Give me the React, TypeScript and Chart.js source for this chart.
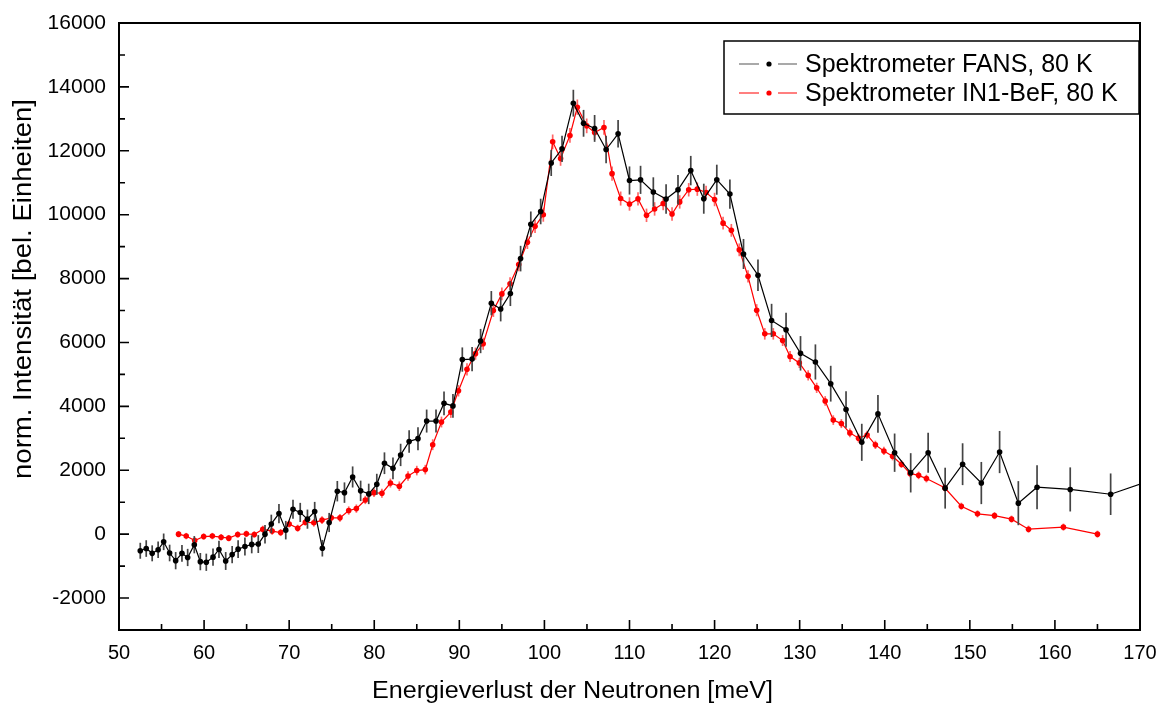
import React, { useEffect, useRef } from "react";
import { Chart, registerables } from "chart.js";

Chart.register(...registerables);

const FONT = '"Liberation Sans", Arial, Helvetica, sans-serif';

// Energy transfer axis and intensity axis tick positions
const xMajorTicks = [50, 60, 70, 80, 90, 100, 110, 120, 130, 140, 150, 160, 170];
const xMinorTicks = [55, 65, 75, 85, 95, 105, 115, 125, 135, 145, 155, 165];
const yMajorTicks = [-2000, 0, 2000, 4000, 6000, 8000, 10000, 12000, 14000, 16000];
const yMinorTicks = [-1000, 1000, 3000, 5000, 7000, 9000, 11000, 13000, 15000];

const xAxisTitle = "Energieverlust der Neutronen [meV]";
const yAxisTitle = "norm. Intensität [bel. Einheiten]";
const legendLabels = ["Spektrometer FANS, 80 K", "Spektrometer IN1-BeF, 80 K"];

// FANS spectrometer, 80 K
const fansEnergy = [
  52.5, 53.2, 53.9, 54.6, 55.25, 55.95, 56.66, 57.4, 58.07, 58.85,
  59.56, 60.26, 61.05, 61.75, 62.54, 63.3, 64.0, 64.8, 65.6, 66.37,
  67.16, 67.9, 68.8, 69.6, 70.45, 71.3, 72.15, 73.0, 73.9, 74.7,
  75.66, 76.5, 77.46, 78.4, 79.35, 80.3, 81.2, 82.2, 83.1, 84.1,
  85.14, 86.16, 87.26, 88.2, 89.25, 90.35, 91.5, 92.5, 93.76, 94.86,
  96.0, 97.2, 98.4, 99.56, 100.8, 102.07, 103.4, 104.6, 105.9, 107.25,
  108.66, 110.0, 111.3, 112.8, 114.3, 115.7, 117.2, 118.73, 120.26, 121.8,
  123.4, 125.1, 126.7, 128.4, 130.1, 131.85, 133.65, 135.45, 137.3, 139.2,
  141.16, 143.05, 145.1, 147.1, 149.15, 151.35, 153.5, 155.7, 157.9, 161.8,
  166.55, 171.5,
];
const fansIntensity = [
  -520, -450, -600, -490, -240, -590, -830, -600, -730, -330,
  -860, -880, -720, -480, -840, -640, -470, -385, -320, -310,
  0, 320, 645, 125, 780, 680, 470, 710, -440, 365,
  1345, 1300, 1790, 1355, 1260, 1560, 2220, 2060, 2480, 2900,
  2990, 3540, 3540, 4095, 4015, 5465, 5480, 6045, 7230, 7050,
  7530, 8625, 9700, 10100, 11620, 12060, 13490, 12860, 12700, 12040,
  12530, 11070, 11090, 10710, 10490, 10780, 11380, 10500, 11095, 10645,
  8770, 8105, 6690, 6400, 5660, 5390, 4710, 3900, 2875, 3765,
  2550, 1920, 2550, 1440, 2190, 1600, 2570, 970, 1470, 1400,
  1250, 1700,
];
const fansError = [
  250, 260, 250, 260, 260, 260, 270, 260, 270, 270,
  270, 270, 270, 270, 280, 270, 280, 280, 280, 280,
  290, 290, 300, 290, 300, 300, 300, 300, 260, 300,
  320, 320, 330, 320, 320, 330, 340, 340, 350, 350,
  360, 360, 360, 370, 370, 380, 380, 380, 380, 390,
  390, 400, 400, 400, 410, 410, 420, 420, 420, 430,
  430, 440, 440, 460, 460, 460, 460, 470, 470, 460,
  470, 490, 520, 530, 540, 550, 560, 570, 580, 590,
  600, 615, 625, 640, 655, 660, 660, 690, 690, 690,
  650, 680,
];

// IN1-BeF spectrometer, 80 K
const in1Energy = [
  57.0, 57.9, 58.9, 59.95, 60.97, 62.0, 62.9, 63.95, 64.97, 65.9,
  66.9, 68.0, 69.0, 70.0, 71.0, 71.9, 72.9, 73.86, 74.95, 75.97,
  77.0, 77.9, 78.95, 79.97, 80.9, 81.9, 82.95, 83.97, 85.0, 86.0,
  86.87, 87.9, 89.0, 89.9, 90.9, 91.9, 92.8, 94.0, 95.0, 95.96,
  96.98, 98.0, 98.9, 99.87, 100.97, 101.9, 103.0, 103.87, 104.97, 105.9,
  107.0, 107.95, 108.96, 110.0, 111.0, 112.0, 112.95, 113.96, 115.0, 115.9,
  116.96, 117.97, 119.0, 120.0, 121.0, 121.97, 122.9, 123.93, 124.95, 125.9,
  126.9, 128.0, 128.87, 129.96, 131.0, 132.0, 133.0, 133.95, 134.9, 135.9,
  136.92, 137.93, 138.9, 139.9, 140.92, 141.96, 142.97, 143.98, 144.9, 147.05,
  149.0, 150.9, 152.9, 154.9, 156.9, 161.0, 165.0,
];
const in1Intensity = [
  0, -60, -200, -75, -60, -95, -125, -10, 10, -10,
  155, 95, 50, 320, 185, 375, 355, 440, 510, 510,
  740, 800, 1070, 1300, 1280, 1600, 1500, 1820, 1990, 2020,
  2800, 3510, 3820, 4490, 5160, 5650, 5960, 7000, 7520, 7840,
  8440, 9135, 9635, 10000, 12280, 11760, 12480, 13365, 12780, 12570,
  12730, 11285, 10505, 10335, 10495, 9980, 10180, 10350, 10020, 10400,
  10780, 10800, 10695, 10475, 9735, 9510, 8900, 8070, 7010, 6270,
  6270, 6060, 5560, 5360, 4970, 4580, 4170, 3570, 3460, 3170,
  3005, 3105, 2795, 2605, 2440, 2190, 1900, 1840, 1740, 1450,
  875, 635, 580, 470, 155, 220, 0,
];
const in1Error = [
  100, 100, 100, 100, 100, 100, 100, 100, 100, 100,
  110, 110, 110, 110, 110, 110, 120, 120, 120, 120,
  130, 130, 130, 140, 140, 140, 150, 150, 150, 150,
  170, 170, 180, 180, 190, 190, 190, 200, 200, 200,
  210, 210, 210, 220, 230, 230, 230, 240, 230, 230,
  230, 220, 220, 210, 210, 210, 210, 210, 210, 210,
  210, 210, 210, 210, 200, 200, 200, 190, 190, 180,
  180, 170, 170, 160, 160, 160, 150, 150, 140, 140,
  140, 130, 130, 130, 130, 120, 120, 120, 120, 120,
  110, 110, 110, 110, 110, 110, 110,
];

const X_MIN = 50;
const X_MAX = 170;
const Y_MIN = -3000;
const Y_MAX = 16000;

const toPoints = (xs: number[], ys: number[]) => xs.map((x, i) => ({ x, y: ys[i] }));

// Vertical error bars, drawn just underneath each dataset's line
const errorBarPlugin = {
  id: "errorBars",
  beforeDatasetDraw(chart: any, args: any) {
    const ds = chart.data.datasets[args.index];
    if (!ds.errors) return;
    const { ctx, chartArea, scales } = chart;
    const xs = scales.x;
    const ys = scales.y;
    ctx.save();
    ctx.beginPath();
    ctx.rect(chartArea.left, chartArea.top, chartArea.right - chartArea.left, chartArea.bottom - chartArea.top);
    ctx.clip();
    ctx.strokeStyle = ds.errorColor;
    ctx.lineWidth = 1.7;
    ds.data.forEach((p: any, i: number) => {
      const e = ds.errors[i];
      const px = xs.getPixelForValue(p.x);
      ctx.beginPath();
      ctx.moveTo(px, ys.getPixelForValue(p.y - e));
      ctx.lineTo(px, ys.getPixelForValue(p.y + e));
      ctx.stroke();
    });
    ctx.restore();
  },
};

function drawStretchedText(
  ctx: CanvasRenderingContext2D,
  text: string,
  x: number,
  y: number,
  fontPx: number,
  targetWidth: number,
  vertical: boolean
) {
  ctx.save();
  ctx.translate(x, y);
  if (vertical) ctx.rotate(-Math.PI / 2);
  ctx.font = `${fontPx}px ${FONT}`;
  const w = ctx.measureText(text).width;
  ctx.scale(targetWidth / w, 1);
  ctx.fillStyle = "#000";
  ctx.textAlign = "center";
  ctx.textBaseline = "alphabetic";
  ctx.fillText(text, 0, 0);
  ctx.restore();
}

// Frame, inward ticks, axis titles and the boxed legend
const framePlugin = {
  id: "frameAndLegend",
  afterDraw(chart: any) {
    const { ctx, chartArea, scales } = chart;
    const { left, right, top, bottom } = chartArea;
    const xs = scales.x;
    const ys = scales.y;
    ctx.save();
    ctx.strokeStyle = "#000";
    ctx.lineWidth = 2;
    ctx.strokeRect(left, top, right - left, bottom - top);

    ctx.lineWidth = 1.6;
    ctx.beginPath();
    xMajorTicks.forEach((v) => {
      const px = xs.getPixelForValue(v);
      ctx.moveTo(px, bottom);
      ctx.lineTo(px, bottom - 10);
    });
    xMinorTicks.forEach((v) => {
      const px = xs.getPixelForValue(v);
      ctx.moveTo(px, bottom);
      ctx.lineTo(px, bottom - 6);
    });
    yMajorTicks.forEach((v) => {
      const py = ys.getPixelForValue(v);
      ctx.moveTo(left, py);
      ctx.lineTo(left + 10, py);
    });
    yMinorTicks.forEach((v) => {
      const py = ys.getPixelForValue(v);
      ctx.moveTo(left, py);
      ctx.lineTo(left + 6, py);
    });
    ctx.stroke();

    // axis titles
    drawStretchedText(ctx, xAxisTitle, 572.5, 698, 23, 401, false);
    drawStretchedText(ctx, yAxisTitle, 31, 289, 26, 380, true);

    // legend
    const boxL = right - 416;
    const boxT = top + 18;
    const boxW = 415;
    const boxH = 73;
    ctx.fillStyle = "#fff";
    ctx.fillRect(boxL, boxT, boxW, boxH);
    ctx.lineWidth = 1.5;
    ctx.strokeStyle = "#000";
    ctx.strokeRect(boxL, boxT, boxW, boxH);

    const rows = [
      { y: boxT + 23, line: "#555", dot: "#000", text: legendLabels[0] },
      { y: boxT + 52, line: "#ff0000", dot: "#ff0000", text: legendLabels[1] },
    ];
    rows.forEach((r) => {
      ctx.strokeStyle = r.line;
      ctx.lineWidth = 1.2;
      ctx.beginPath();
      ctx.moveTo(boxL + 15, r.y);
      ctx.lineTo(boxL + 35, r.y);
      ctx.moveTo(boxL + 54, r.y);
      ctx.lineTo(boxL + 73, r.y);
      ctx.stroke();
      ctx.fillStyle = r.dot;
      ctx.beginPath();
      ctx.arc(boxL + 45, r.y, 2.6, 0, Math.PI * 2);
      ctx.fill();
      ctx.fillStyle = "#000";
      ctx.font = `25px ${FONT}`;
      ctx.textAlign = "left";
      ctx.textBaseline = "alphabetic";
      ctx.fillText(r.text, boxL + 81, r.y + 8);
    });
    ctx.restore();
  },
};

export default function App() {
  const canvasRef = useRef<HTMLCanvasElement | null>(null);

  useEffect(() => {
    const canvas = canvasRef.current;
    if (!canvas) return;
    const chart = new Chart(canvas, {
      type: "line",
      data: {
        datasets: [
          {
            label: legendLabels[0],
            data: toPoints(fansEnergy, fansIntensity),
            errors: fansError,
            errorColor: "#444",
            borderColor: "#000",
            backgroundColor: "#000",
            borderWidth: 1.2,
            pointRadius: 2.8,
            pointBorderWidth: 0,
            pointBackgroundColor: "#000",
            tension: 0,
            clip: 0,
          } as any,
          {
            label: legendLabels[1],
            data: toPoints(in1Energy, in1Intensity),
            errors: in1Error,
            errorColor: "rgba(255,0,0,0.6)",
            borderColor: "#ff0000",
            backgroundColor: "#ff0000",
            borderWidth: 1.2,
            pointRadius: 2.8,
            pointBorderWidth: 0,
            pointBackgroundColor: "#ff0000",
            tension: 0,
            clip: 0,
          } as any,
        ],
      },
      options: {
        animation: false,
        responsive: false,
        devicePixelRatio: 1,
        layout: { padding: { left: 0, right: 26, top: 23, bottom: 0 } },
        plugins: {
          legend: { display: false },
          tooltip: { enabled: false },
        },
        scales: {
          x: {
            type: "linear",
            min: X_MIN,
            max: X_MAX,
            grid: { display: false, drawTicks: false },
            border: { display: false },
            afterFit: (scale: any) => {
              scale.height = 74;
              scale.paddingLeft = 0;
              scale.paddingRight = 0;
            },
            afterBuildTicks: (scale: any) => {
              scale.ticks = xMajorTicks.map((v) => ({ value: v }));
            },
            ticks: {
              padding: 11,
              color: "#000",
              font: { family: FONT, size: 20 },
              maxRotation: 0,
              autoSkip: false,
              callback: (v: any) => String(v),
            },
          },
          y: {
            type: "linear",
            min: Y_MIN,
            max: Y_MAX,
            grid: { display: false, drawTicks: false },
            border: { display: false },
            afterFit: (scale: any) => {
              scale.width = 119;
              scale.paddingTop = 0;
              scale.paddingBottom = 0;
            },
            afterBuildTicks: (scale: any) => {
              scale.ticks = yMajorTicks.map((v) => ({ value: v }));
            },
            ticks: {
              padding: 13,
              color: "#000",
              font: { family: FONT, size: 21 },
              autoSkip: false,
              callback: (v: any) => String(v),
            },
          },
        },
      },
      plugins: [errorBarPlugin, framePlugin],
    });
    return () => chart.destroy();
  }, []);

  return (
    <div style={{ position: "fixed", left: 0, top: 0, width: 1166, height: 704, background: "#fff" }}>
      <canvas ref={canvasRef} width={1166} height={704} style={{ display: "block" }} />
    </div>
  );
}
